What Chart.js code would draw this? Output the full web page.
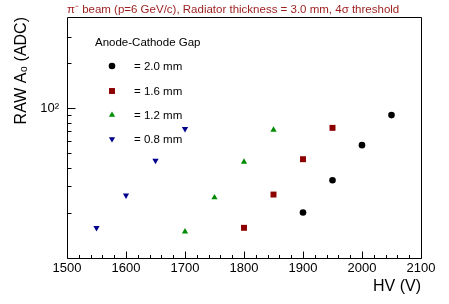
<!DOCTYPE html>
<html><head><meta charset="utf-8">
<script src="https://cdn.jsdelivr.net/npm/chart.js@4.4.1/dist/chart.umd.min.js"></script>
<style>html,body{margin:0;padding:0;background:#fff}#wrap{width:449px;height:304px}</style>
</head><body><div id="wrap"><canvas id="c" width="449" height="304"></canvas></div>
<script>
// ---- data ----
const hvGap20 = [1900, 1950, 2000, 2050];
const adcGap20 = [20.1, 33.0, 56.6, 89.8];
const hvGap16 = [1800, 1850, 1900, 1950];
const adcGap16 = [15.9, 26.5, 45.6, 73.8];
const hvGap12 = [1700, 1750, 1800, 1850];
const adcGap12 = [15.0, 25.3, 43.7, 71.5];
const hvGap08 = [1550, 1600, 1650, 1700];
const adcGap08 = [15.9, 26.2, 44.6, 72.6];
const seriesLabels = ['= 2.0 mm', '= 1.6 mm', '= 1.2 mm', '= 0.8 mm'];
const legendHeader = 'Anode-Cathode Gap';
const chartTitle = 'π\u207B beam (p=6 GeV/c), Radiator thickness = 3.0 mm, 4σ threshold';
const xTitle = 'HV (V)';
const yTitle = 'RAW A\u2080 (ADC)';
const xTickValues = [1500, 1600, 1700, 1800, 1900, 2000, 2100];
const xMinorTickValues = [1520,1540,1560,1580,1620,1640,1660,1680,1720,1740,1760,1780,1820,1840,1860,1880,1920,1940,1960,1980,2020,2040,2060,2080];
const yTickValues = [100];
const yTickLabels = ['10\u00B2'];
const yMinorTickValues = [20, 30, 40, 50, 60, 70, 80, 90, 200, 300];

const FONT = "'Liberation Sans', Arial, Helvetica, sans-serif";
const pts = (xs, ys) => xs.map((x, i) => ({x: x, y: ys[i]}));

const colors = ['#000000', '#8c0000', '#008c00', '#00008c'];

const frameAndTicks = {
  id: 'frameAndTicks',
  afterDraw(chart) {
    const {ctx, chartArea: a, scales: {x, y}} = chart;
    ctx.save();
    ctx.strokeStyle = '#000';
    ctx.lineWidth = 1;
    ctx.beginPath();
    ctx.rect(Math.round(a.left) + 0.5, Math.round(a.top) + 0.5, Math.round(a.right - a.left), Math.round(a.bottom - a.top));
    ctx.stroke();
    ctx.beginPath();
    const b = Math.round(a.bottom) + 0.5, l = Math.round(a.left) + 0.5;
    xTickValues.forEach(v => { const px = Math.round(x.getPixelForValue(v)) + 0.5; ctx.moveTo(px, b); ctx.lineTo(px, b - 7); });
    xMinorTickValues.forEach(v => { const px = Math.round(x.getPixelForValue(v)) + 0.5; ctx.moveTo(px, b); ctx.lineTo(px, b - 3.5); });
    yTickValues.forEach(v => { const py = Math.round(y.getPixelForValue(v)) + 0.5; ctx.moveTo(l, py); ctx.lineTo(l + 8, py); });
    yMinorTickValues.forEach(v => { const py = Math.round(y.getPixelForValue(v)) + 0.5; ctx.moveTo(l, py); ctx.lineTo(l + 4, py); });
    ctx.stroke();
    // title
    ctx.fillStyle = '#9b1c1c';
    ctx.font = '11.5px ' + FONT;
    ctx.textBaseline = 'middle';
    ctx.textAlign = 'left';
    ctx.fillText(chartTitle, 67, 10);
    // legend
    ctx.fillStyle = '#000';
    ctx.font = '11.5px ' + FONT;
    ctx.fillText(legendHeader, 95, 43);
    const rowY = [66, 91, 115, 139];
    chart.data.datasets.forEach((ds, i) => {
      const opts = {pointStyle: ds.pointStyle, radius: ds.pointRadius, rotation: ds.rotation || 0, borderWidth: 0};
      ctx.fillStyle = ds.backgroundColor;
      ctx.strokeStyle = ds.backgroundColor;
      Chart.helpers.drawPoint(ctx, opts, 112, rowY[i]);
      ctx.fillStyle = '#000';
      ctx.fillText(seriesLabels[i], 134, rowY[i] + 0.5);
    });
    ctx.restore();
  }
};

new Chart(document.getElementById('c'), {
  type: 'scatter',
  data: {
    datasets: [
      {label: seriesLabels[0], data: pts(hvGap20, adcGap20), pointStyle: 'circle', pointRadius: 3.3, backgroundColor: colors[0], borderColor: colors[0], pointBorderWidth: 0},
      {label: seriesLabels[1], data: pts(hvGap16, adcGap16), pointStyle: 'rect', pointRadius: 4.2, backgroundColor: colors[1], borderColor: colors[1], pointBorderWidth: 0},
      {label: seriesLabels[2], data: pts(hvGap12, adcGap12), pointStyle: 'triangle', pointRadius: 3.6, backgroundColor: colors[2], borderColor: colors[2], pointBorderWidth: 0},
      {label: seriesLabels[3], data: pts(hvGap08, adcGap08), pointStyle: 'triangle', rotation: 180, pointRadius: 3.6, backgroundColor: colors[3], borderColor: colors[3], pointBorderWidth: 0}
    ]
  },
  options: {
    responsive: false,
    animation: false,
    devicePixelRatio: 1,
    layout: {padding: {left: 0, right: 28, top: 17, bottom: 0}},
    plugins: {legend: {display: false}, tooltip: {enabled: false}, title: {display: false}},
    scales: {
      x: {
        type: 'linear', min: 1500, max: 2100,
        border: {display: false},
        grid: {display: false, drawTicks: false},
        afterBuildTicks: s => { s.ticks = xTickValues.map(v => ({value: v})); },
        afterFit: s => { s.height = 46; },
        ticks: {padding: 3, autoSkip: false, maxRotation: 0, color: '#000', font: {family: FONT, size: 13}, callback: v => String(v)},
        title: {display: true, text: xTitle, align: 'end', color: '#000', font: {family: FONT, size: 16}, padding: {top: 0, bottom: 8}}
      },
      y: {
        type: 'logarithmic', min: 10, max: 405,
        border: {display: false},
        grid: {display: false, drawTicks: false},
        afterBuildTicks: s => { s.ticks = yTickValues.map(v => ({value: v})); },
        afterFit: s => { s.width = 67; },
        ticks: {padding: 8, autoSkip: false, color: '#000', font: {family: FONT, size: 13},
          callback: v => { const i = yTickValues.indexOf(v); return i >= 0 ? yTickLabels[i] : ''; }},
        title: {display: true, text: yTitle, align: 'end', color: '#000', font: {family: FONT, size: 16}, padding: {top: 12, bottom: 0}}
      }
    }
  },
  plugins: [frameAndTicks]
});
</script></body></html>
